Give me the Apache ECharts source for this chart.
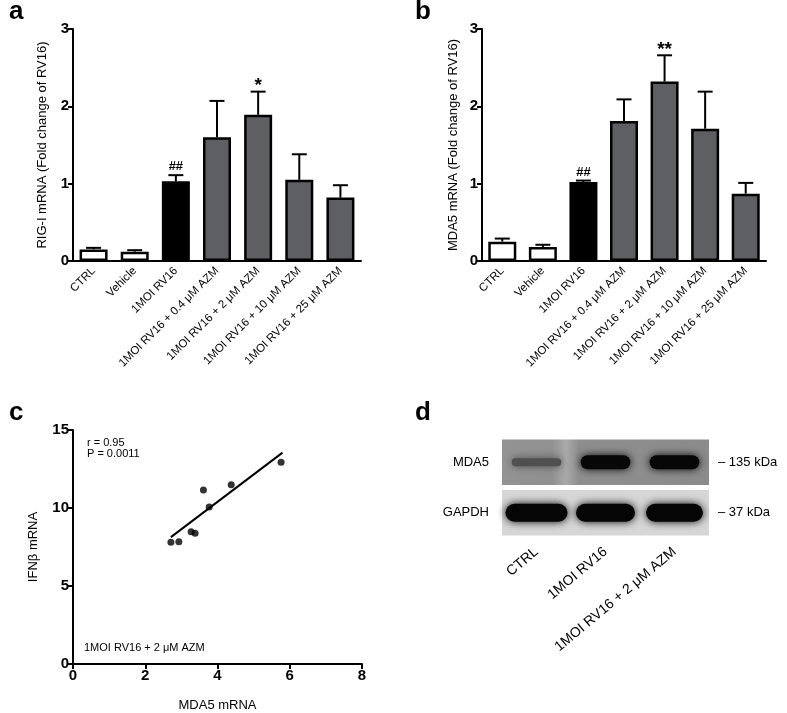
<!DOCTYPE html>
<html>
<head>
<meta charset="utf-8">
<script src="https://cdn.jsdelivr.net/npm/echarts@6/dist/echarts.min.js"></script>
<style>
  html, body { margin: 0; padding: 0; background: #fff; }
  #main { width: 787px; height: 713px; }
</style>
</head>
<body>
<div id="main"></div>
<script>
// categories shared by panel a and b
var groups = ['CTRL', 'Vehicle', '1MOI RV16', '1MOI RV16 + 0.4 μM AZM', '1MOI RV16 + 2 μM AZM', '1MOI RV16 + 10 μM AZM', '1MOI RV16 + 25 μM AZM'];
var barColors = ['#ffffff', '#ffffff', '#000000', '#5e5f63', '#5e5f63', '#5e5f63', '#5e5f63'];

// panel a: RIG-I mRNA
var rigMean = [0.15, 0.12, 1.03, 1.60, 1.89, 1.05, 0.82];
var rigUpper = [0.17, 0.14, 1.11, 2.07, 2.19, 1.38, 0.98];
var rigSig = ['', '', '##', '', '*', '', ''];

// panel b: MDA5 mRNA
var mdaMean = [0.25, 0.18, 1.02, 1.81, 2.32, 1.71, 0.87];
var mdaUpper = [0.29, 0.21, 1.04, 2.09, 2.66, 2.19, 1.01];
var mdaSig = ['', '', '##', '', '**', '', ''];

// panel c: correlation
var mdaX = [2.71, 2.93, 3.27, 3.38, 3.61, 3.77, 4.38, 5.76];
var ifnY = [7.81, 7.83, 8.47, 8.38, 11.15, 10.06, 11.49, 12.94];
var fitX = [2.71, 5.80];
var fitY = [8.13, 13.55];

// panel d: western blot
var lanes = ['CTRL', '1MOI RV16', '1MOI RV16 + 2 μM AZM'];
var blotRows = ['MDA5', 'GAPDH'];
var blotSizes = ['– 135 kDa', '– 37 kDa'];
var mda5Signal = [0.45, 1.0, 1.0];
var gapdhSignal = [1.0, 0.85, 0.75];

var FONT = 'Liberation Sans';
var chart = echarts.init(document.getElementById('main'));

function errRenderer(sig) {
  return function (params, api) {
    var i = api.value(0);
    var base = api.coord([i, api.value(1)]);
    var hi = api.coord([i, api.value(2)]);
    var cap = 7.5;
    var kids = [
      { type: 'line', shape: { x1: base[0], y1: base[1], x2: hi[0], y2: hi[1] }, style: { stroke: '#000', lineWidth: 2 } },
      { type: 'line', shape: { x1: hi[0] - cap, y1: hi[1], x2: hi[0] + cap, y2: hi[1] }, style: { stroke: '#000', lineWidth: 2 } }
    ];
    var s = sig[params.dataIndex];
    if (s) {
      var star = s.indexOf('*') >= 0;
      kids.push({
        type: 'text',
        style: {
          text: s, x: hi[0], y: hi[1] + (star ? 4 : -2), align: 'center', verticalAlign: 'bottom',
          font: 'bold ' + (star ? 19 : 13) + 'px "' + FONT + '"', fill: '#000'
        }
      });
    }
    return { type: 'group', children: kids };
  };
}

function barData(vals) {
  return vals.map(function (v, i) {
    return { value: v, itemStyle: { color: barColors[i] } };
  });
}

function errData(mean, upper) {
  return mean.map(function (m, i) { return [i, m, upper[i]]; });
}

function catAxis(grid) {
  return {
    type: 'category', gridIndex: grid, data: groups,
    axisLine: { lineStyle: { color: '#000', width: 2 } },
    axisTick: { alignWithLabel: true, length: 5, lineStyle: { color: '#000', width: 2 } },
    axisLabel: { rotate: 45, margin: 8, fontSize: 11.5, color: '#000', fontFamily: FONT, interval: 0 }
  };
}

var tickLabel = { fontSize: 15, fontWeight: 'bold', color: '#000', fontFamily: FONT, margin: 4 };

function valAxis(grid, name, gap) {
  return {
    type: 'value', gridIndex: grid, min: 0, max: 3, interval: 1,
    name: name, nameLocation: 'middle', nameGap: gap,
    nameTextStyle: { fontSize: 13, color: '#000', fontFamily: FONT },
    axisLine: { show: true, lineStyle: { color: '#000', width: 2 } },
    axisTick: { show: true, length: 5, lineStyle: { color: '#000', width: 2 } },
    axisLabel: tickLabel,
    splitLine: { show: false }
  };
}

var letterStyle = { fontSize: 26, fontWeight: 'bold', color: '#000', fontFamily: FONT };

var option = {
  animation: false,
  backgroundColor: '#fff',
  title: [
    { text: 'a', left: 4, top: -6, textStyle: letterStyle },
    { text: 'b', left: 410, top: -6, textStyle: letterStyle },
    { text: 'c', left: 4, top: 395, textStyle: letterStyle },
    { text: 'd', left: 410, top: 395, textStyle: letterStyle }
  ],
  grid: [
    { left: 73, top: 29, width: 288, height: 232 },
    { left: 482, top: 29, width: 284, height: 232 },
    { left: 73, top: 430, width: 289, height: 235 },
    { left: 502, top: 437, width: 207, height: 101 }
  ],
  xAxis: [
    catAxis(0),
    catAxis(1),
    {
      type: 'value', gridIndex: 2, min: 0, max: 8, interval: 2,
      name: 'MDA5 mRNA', nameLocation: 'middle', nameGap: 35,
      nameTextStyle: { fontSize: 13, color: '#000', fontFamily: FONT },
      axisLine: { lineStyle: { color: '#000', width: 2 } },
      axisTick: { length: 5, lineStyle: { color: '#000', width: 2 } },
      axisLabel: tickLabel,
      splitLine: { show: false }
    },
    {
      type: 'category', gridIndex: 3, data: lanes,
      axisLine: { show: false }, axisTick: { show: false },
      axisLabel: { rotate: 40, margin: 12, fontSize: 14, color: '#000', fontFamily: FONT, interval: 0 }
    }
  ],
  yAxis: [
    valAxis(0, 'RIG-I mRNA (Fold change of RV16)', 24),
    valAxis(1, 'MDA5 mRNA (Fold change of RV16)', 22),
    {
      type: 'value', gridIndex: 2, min: 0, max: 15, interval: 5,
      name: 'IFNβ mRNA', nameLocation: 'middle', nameGap: 33,
      nameTextStyle: { fontSize: 13, color: '#000', fontFamily: FONT },
      axisLine: { show: true, lineStyle: { color: '#000', width: 2 } },
      axisTick: { show: true, length: 5, lineStyle: { color: '#000', width: 2 } },
      axisLabel: tickLabel,
      splitLine: { show: false }
    },
    {
      type: 'category', gridIndex: 3, data: blotRows, inverse: true,
      axisLine: { show: false }, axisTick: { show: false },
      axisLabel: { margin: 13, fontSize: 13, color: '#000', fontFamily: FONT }
    },
    {
      type: 'category', gridIndex: 3, data: blotSizes, inverse: true, position: 'right',
      axisLine: { show: false }, axisTick: { show: false },
      axisLabel: { margin: 9, fontSize: 13, color: '#000', fontFamily: FONT }
    }
  ],
  series: [
    {
      type: 'bar', xAxisIndex: 0, yAxisIndex: 0, barWidth: 28, data: barData(rigMean),
      itemStyle: { borderColor: '#000', borderWidth: 2.5 }
    },
    {
      type: 'custom', xAxisIndex: 0, yAxisIndex: 0, z: 3,
      renderItem: errRenderer(rigSig), data: errData(rigMean, rigUpper)
    },
    {
      type: 'bar', xAxisIndex: 1, yAxisIndex: 1, barWidth: 28, data: barData(mdaMean),
      itemStyle: { borderColor: '#000', borderWidth: 2.5 }
    },
    {
      type: 'custom', xAxisIndex: 1, yAxisIndex: 1, z: 3,
      renderItem: errRenderer(mdaSig), data: errData(mdaMean, mdaUpper)
    },
    {
      type: 'scatter', xAxisIndex: 2, yAxisIndex: 2, symbolSize: 7,
      itemStyle: { color: '#000' },
      data: mdaX.map(function (x, i) { return [x, ifnY[i]]; })
    },
    {
      type: 'line', xAxisIndex: 2, yAxisIndex: 2, symbol: 'none',
      lineStyle: { color: '#000', width: 2 },
      data: fitX.map(function (x, i) { return [x, fitY[i]]; })
    },
    {
      // blot membranes
      type: 'custom', xAxisIndex: 3, yAxisIndex: 3, z: 1,
      data: blotRows.map(function (r, i) { return [0, i]; }),
      renderItem: function (params, api) {
        var cs = params.coordSys;
        var row = api.value(1);
        var cy = api.coord([0, row])[1];
        var h = api.size([0, 1])[1] - 5;
        var fill = row === 0 ? new echarts.graphic.LinearGradient(0, 0, 1, 0, [
          { offset: 0, color: '#939393' },
          { offset: 0.24, color: '#909090' },
          { offset: 0.31, color: '#a9a9a9' },
          { offset: 0.37, color: '#8e8e8e' },
          { offset: 1, color: '#8b8b8b' }
        ]) : '#d6d6d6';
        return {
          type: 'rect',
          shape: { x: cs.x, y: cy - h / 2, width: cs.width, height: h },
          style: { fill: fill }
        };
      }
    },
    {
      // blot bands
      type: 'custom', xAxisIndex: 3, yAxisIndex: 3, z: 2,
      data: mda5Signal.map(function (s, i) { return [i, 0, s]; })
        .concat(gapdhSignal.map(function (s, i) { return [i, 1, s]; })),
      renderItem: function (params, api) {
        var lane = api.value(0), row = api.value(1), s = api.value(2);
        var c = api.coord([lane, row]);
        var laneW = api.size([1, 0])[0];
        var w, h, col;
        if (row === 0) {
          w = laneW * 0.72;
          h = 3 + 11 * s;
          var g = Math.round(140 * (1 - s * 0.95));
          col = 'rgb(' + g + ',' + g + ',' + g + ')';
        } else {
          w = laneW * (0.6 + 0.3 * s);
          h = 18;
          col = '#050505';
        }
        return {
          type: 'rect',
          shape: { x: c[0] - w / 2, y: c[1] - h / 2, width: w, height: h, r: h / 2 },
          style: { fill: col, shadowBlur: 8, shadowColor: col }
        };
      }
    }
  ],
  graphic: [
    { type: 'text', left: 87, top: 437, style: { text: 'r = 0.95', font: '11px "' + FONT + '"', fill: '#000' } },
    { type: 'text', left: 87, top: 448, style: { text: 'P = 0.0011', font: '11px "' + FONT + '"', fill: '#000' } },
    { type: 'text', left: 84, top: 642, style: { text: '1MOI RV16 + 2 μM AZM', font: '11px "' + FONT + '"', fill: '#000' } }
  ]
};

chart.setOption(option);
</script>
</body>
</html>
